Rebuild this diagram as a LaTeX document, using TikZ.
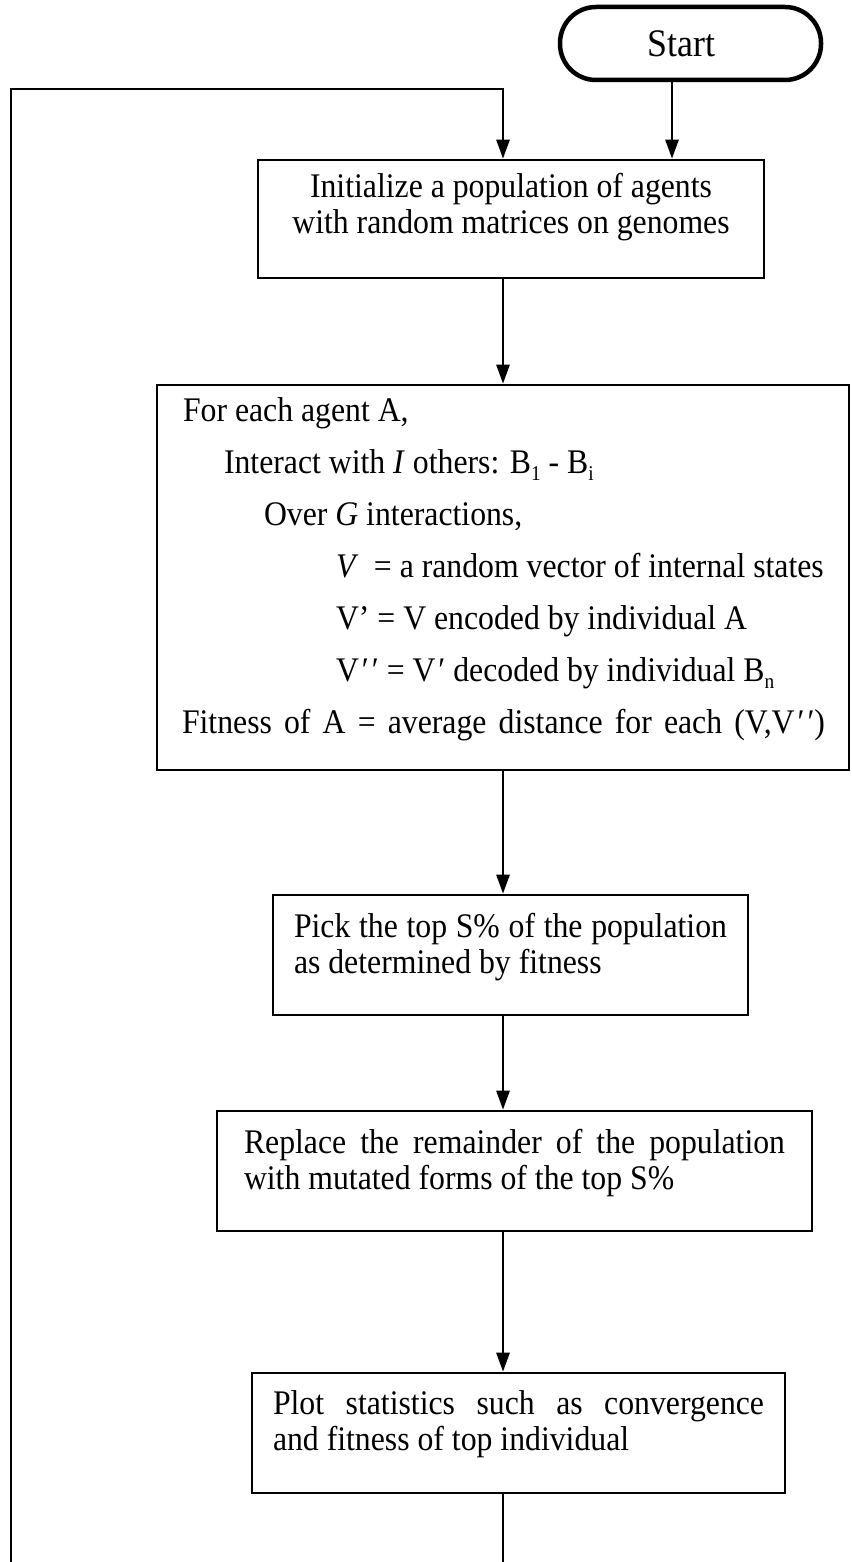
\documentclass[tikz,border=0pt]{standalone}
\usepackage{fontspec}
\setmainfont{Liberation Serif}[FakeStretch=0.92]
\usepackage{tikz}
\usetikzlibrary{arrows.meta}
\usetikzlibrary{calc}

\newcommand{\lowsub}[1]{\raisebox{-7pt}{\fontsize{21}{21}\selectfont #1}}
\newcommand{\dprime}{\kern3pt′\kern3pt′}

\begin{document}
\begin{tikzpicture}[x=1pt, y=-1pt,
        font=\fontsize{34.5}{36}\selectfont,
        stepbox/.style={draw, line width=2.6pt, rectangle, inner xsep=21pt, inner ysep=0pt, minimum height=120pt},
        flow/.style={line width=2.6pt, -{Triangle[length=19pt,width=13pt]}},
        link/.style={line width=2.6pt}]

        \useasboundingbox (0,0) rectangle (851,1562);

        \node[draw, line width=4.5pt, rounded corners=36pt, minimum width=261pt, minimum height=73pt, inner sep=0pt, font=\fontsize{39}{40}\selectfont] (start) at (690.5,43.5) {Start\hspace*{18pt}};

        \node[stepbox, text width=464pt, align=flush center, minimum height=118pt] (init) at (511,219) {Initialize a population of agents\\with random matrices on genomes\par\kern24pt};

        \node[stepbox, text width=690pt, inner xsep=1pt, align=flush left, minimum height=385pt, font=\fontsize{34.5}{52}\selectfont] (agents) at (503,577.5) {\hspace*{25pt}For each agent A,\\
            \hspace*{66pt}Interact with \textit{I} others: B\lowsub{1} - B\lowsub{i}\\
            \hspace*{106pt}Over \textit{G} interactions,\\
            \hspace*{178pt}\textit{V}\hspace{0.45em}= a random vector of internal states\\
            \hspace*{178pt}V’ = V encoded by individual A\\
            \hspace*{178pt}V\dprime{} = V\kern3pt′ decoded by individual B\lowsub{n}\\
            \hspace*{24pt}\makebox[643pt][s]{Fitness of A = average distance for each (V,V\dprime)}\par\kern16pt};

        \node[stepbox, text width=433pt, align=justify] (pick) at (510.5,955) {Pick the top S\% of the population\linebreak as determined by fitness\par\kern16pt};

        \node[stepbox, text width=541pt, inner xsep=27pt, align=justify] (replace) at (514.5,1171) {Replace the remainder of the population\linebreak with mutated forms of the top S\%\par\kern16pt};

        \node[stepbox, text width=491pt, align=justify] (plot) at (518.5,1433) {Plot statistics such as convergence\linebreak and fitness of top individual\par\kern18pt};

        % loop back and entry
        \coordinate (entry) at (672,0);
        \coordinate (looptop) at (11,89);
        \coordinate (loopbottom) at (11,1562);

        \draw[flow] (start.south -| entry) -- (init.north -| entry);
        \draw[flow] (loopbottom) -- (looptop) -| (init.north -| agents.north);

        \draw[flow] (init.south -| agents.north) -- (agents.north);
        \draw[flow] (agents.south) -- (pick.north -| agents.south);
        \draw[flow] (pick.south -| agents.south) -- (replace.north -| agents.south);
        \draw[flow] (replace.south -| agents.south) -- (plot.north -| agents.south);
        \draw[link] (plot.south -| agents.south) -- (loopbottom -| agents.south);

\end{tikzpicture}
\end{document}
